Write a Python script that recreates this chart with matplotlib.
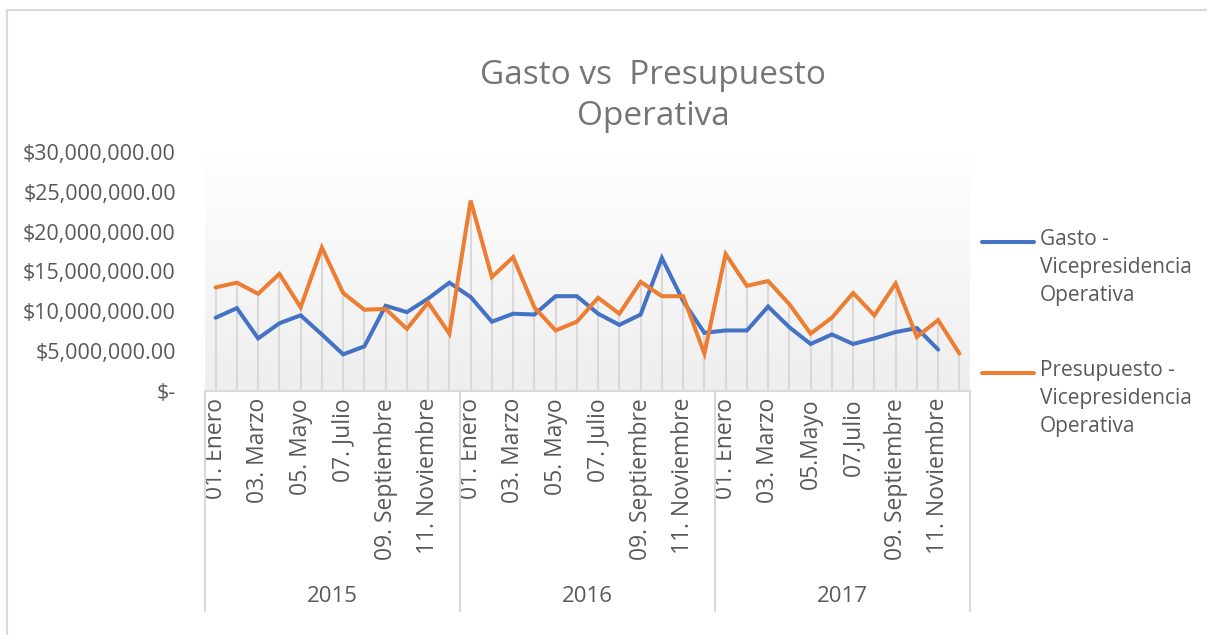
import matplotlib.pyplot as plt
import matplotlib.transforms as mtransforms
import numpy as np
from matplotlib.lines import Line2D

plt.rcParams["font.family"] = ["Open Sans", "DejaVu Sans"]

years = ["2015", "2016", "2017"]
month_labels = [
    ["01. Enero", "03. Marzo", "05. Mayo", "07. Julio", "09. Septiembre", "11. Noviembre"],
    ["01. Enero", "03. Marzo", "05. Mayo", "07. Julio", "09. Septiembre", "11. Noviembre"],
    ["01. Enero", "03. Marzo", "05.Mayo", "07.Julio", "09. Septiembre", "11. Noviembre"],
]

# values in millions
gasto = [
    9.2, 10.4, 6.6, 8.5, 9.5, 7.1, 4.6, 5.6, 10.7, 9.9, 11.6, 13.6,
    11.8, 8.7, 9.7, 9.6, 11.9, 11.9, 9.7, 8.3, 9.6, 16.7, 11.3, 7.3,
    7.6, 7.6, 10.6, 8.0, 5.9, 7.1, 5.9, 6.6, 7.4, 7.9, 5.2, np.nan,
]
presupuesto = [
    13.0, 13.6, 12.2, 14.7, 10.5, 18.0, 12.3, 10.2, 10.3, 7.8, 11.1, 7.2,
    23.9, 14.3, 16.8, 10.5, 7.6, 8.7, 11.7, 9.7, 13.7, 11.9, 11.9, 4.7,
    17.2, 13.2, 13.8, 10.9, 7.2, 9.2, 12.3, 9.5, 13.5, 6.8, 8.9, 4.7,
]

blue = "#4472C4"
orange = "#ED7D31"
grid_gray = "#D9D9D9"
text_gray = "#595959"

g = np.array(gasto) * 1e6
p = np.array(presupuesto) * 1e6
x = np.arange(len(g))

fig = plt.figure(figsize=(12.09, 6.35), dpi=100)
W, H = 1209, 635
ax = fig.add_axes([205 / W, 1 - 391 / H, 765 / W, 239 / H])

# gradient background
grad = np.linspace(1, 0, 256).reshape(-1, 1)
ax.imshow(grad, cmap=plt.matplotlib.colors.LinearSegmentedColormap.from_list("bg", ["#EEEEEE", "#FFFFFF"]),
          extent=[-0.5, 35.5, 0, 30e6], aspect="auto", zorder=0, vmin=0, vmax=1)

# drop lines
top = np.fmax(g, p)
ax.vlines(x, 0, top, colors=grid_gray, lw=1.5, zorder=1)

ax.plot(x, g, color=blue, lw=2.9, solid_capstyle="round", solid_joinstyle="miter", zorder=3)
ax.plot(x, p, color=orange, lw=2.9, solid_capstyle="round", solid_joinstyle="miter", zorder=3)

ax.set_xlim(-0.5, 35.5)
ax.set_ylim(0, 30e6)

yt = np.arange(0, 30e6 + 1, 5e6)
ax.set_yticks(yt)
ax.set_yticklabels(["$-"] + [f"${v:,.2f}" for v in yt[1:]])
ax.tick_params(axis="y", length=0, pad=21, labelsize=15.5, labelcolor=text_gray)

xt = [i * 12 + m for i in range(3) for m in range(0, 12, 2)]
ax.set_xticks(xt)
ax.set_xticklabels([lab for yl in month_labels for lab in yl], rotation=90, va="top", ha="center")
ax.tick_params(axis="x", length=0, pad=5, labelsize=16.5, labelcolor=text_gray)

for s in ["top", "right", "left"]:
    ax.spines[s].set_visible(False)
ax.spines["bottom"].set_color(grid_gray)
ax.spines["bottom"].set_linewidth(1.5)

# year group separators and labels
trans = mtransforms.blended_transform_factory(ax.transData, ax.transAxes)
for b in [-0.5, 11.5, 23.5, 35.5]:
    ax.add_line(Line2D([b, b], [0, -220 / 239], transform=trans, color=grid_gray, lw=1.5, clip_on=False))
for i, yr in enumerate(years):
    ax.text(i * 12 + 5.5, -206 / 239, yr, transform=trans, ha="center", va="center",
            fontsize=16, color=text_gray)

# title
fig.text(653 / W, 1 - 96 / H, "Gasto vs  Presupuesto\nOperativa", ha="center", va="center",
         fontsize=24, color="#757575", linespacing=1.35)

# legend
leg_items = [(blue, 242, "Gasto -\nVicepresidencia\nOperativa"),
             (orange, 373, "Presupuesto -\nVicepresidencia\nOperativa")]
for col, ypix, lab in leg_items:
    fig.add_artist(Line2D([982 / W, 1034 / W], [1 - ypix / H, 1 - ypix / H], color=col, lw=2.9,
                          solid_capstyle="round"))
    fig.text(1040 / W, 1 - (ypix - 13) / H, lab, ha="left", va="top", fontsize=15,
             color=text_gray, linespacing=1.45)

# chart border
fig.add_artist(Line2D([7 / W, 1206 / W], [1 - 10 / H, 1 - 10 / H], color=grid_gray, lw=1.5))
fig.add_artist(Line2D([7 / W, 7 / W], [1 - 10 / H, 0], color=grid_gray, lw=1.5))

fig.savefig("out.png", dpi=100, facecolor="white")
